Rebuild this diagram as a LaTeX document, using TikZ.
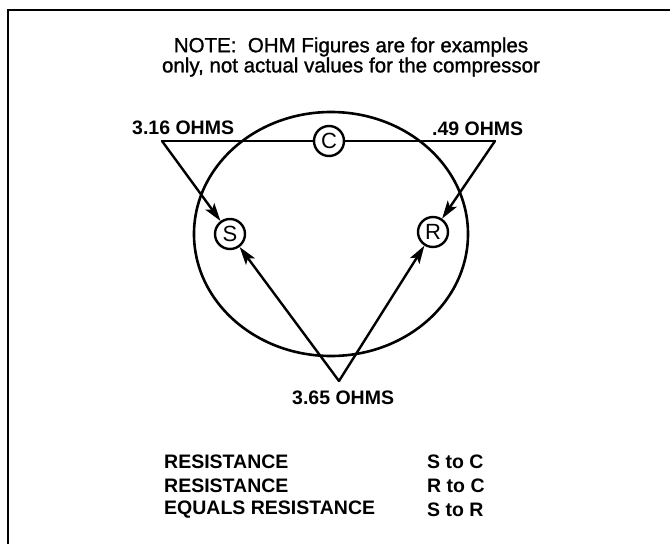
\documentclass[tikz,border=0pt]{standalone}
\usepackage{fontspec}
\setmainfont{Liberation Sans}
\newfontfamily\notefont[FakeBold=1.2]{Liberation Sans}
\usetikzlibrary{arrows.meta}
\begin{document}
\begin{tikzpicture}[x=1pt,y=-1pt,
  wire/.style={line width=2.4pt,line cap=round,line join=miter},
  arr/.style={wire,-{Stealth[length=18pt,width=11pt,inset=4pt]}},
  term/.style={circle,draw,line width=2.4pt,minimum size=30pt,inner sep=0pt,font=\fontsize{22}{22}\selectfont},
  lbl/.style={inner sep=0pt,font=\fontsize{19.5}{20}\selectfont\bfseries},
  note/.style={inner sep=0pt,align=center,font=\fontsize{20.5}{17}\selectfont\notefont}]
\useasboundingbox (0,0) rectangle (670,544);
\fill[white] (0,0) rectangle (670,544);
\draw[line width=2.4pt] (8,548) -- (8,10) -- (674,10);
% note
\node[note] (nt) at (351,57) {NOTE:\ \ OHM Figures are for examples\\only, not actual values for the compressor};
% ellipse
\draw[line width=2.6pt] (331,234) ellipse [x radius=137, y radius=122];
% terminals
\node[term] (C) at (329,141) {C};
\node[term] (S) at (230,234) {S};
\node[term] (R) at (433,232) {R};
% vertices
\coordinate (lv) at (162,141);
\coordinate (rv) at (495,141);
\coordinate (bv) at (339,381);
\draw[wire] (lv) -- (C) -- (rv);
\draw[arr] (lv) -- (S);
\draw[arr] (rv) -- (R);
\draw[arr] (bv) -- (S);
\draw[arr] (bv) -- (R);
% labels
\node[lbl,anchor=west] (l1) at (132,128) {3.16 OHMS};
\node[lbl,anchor=west] (l2) at (432,129) {.49 OHMS};
\node[lbl,anchor=west] (l3) at (292,398) {3.65 OHMS};
% bottom table
\node[lbl,anchor=west] (t1) at (164,462) {RESISTANCE};
\node[lbl,anchor=west] (t2) at (164,486) {RESISTANCE};
\node[lbl,anchor=west] (t3) at (164,510) {EQUALS RESISTANCE};
\node[lbl,anchor=west] (u1) at (427,462) {S to C};
\node[lbl,anchor=west] (u2) at (427,486) {R to C};
\node[lbl,anchor=west] (u3) at (427,510) {S to R};
\end{tikzpicture}
\end{document}
